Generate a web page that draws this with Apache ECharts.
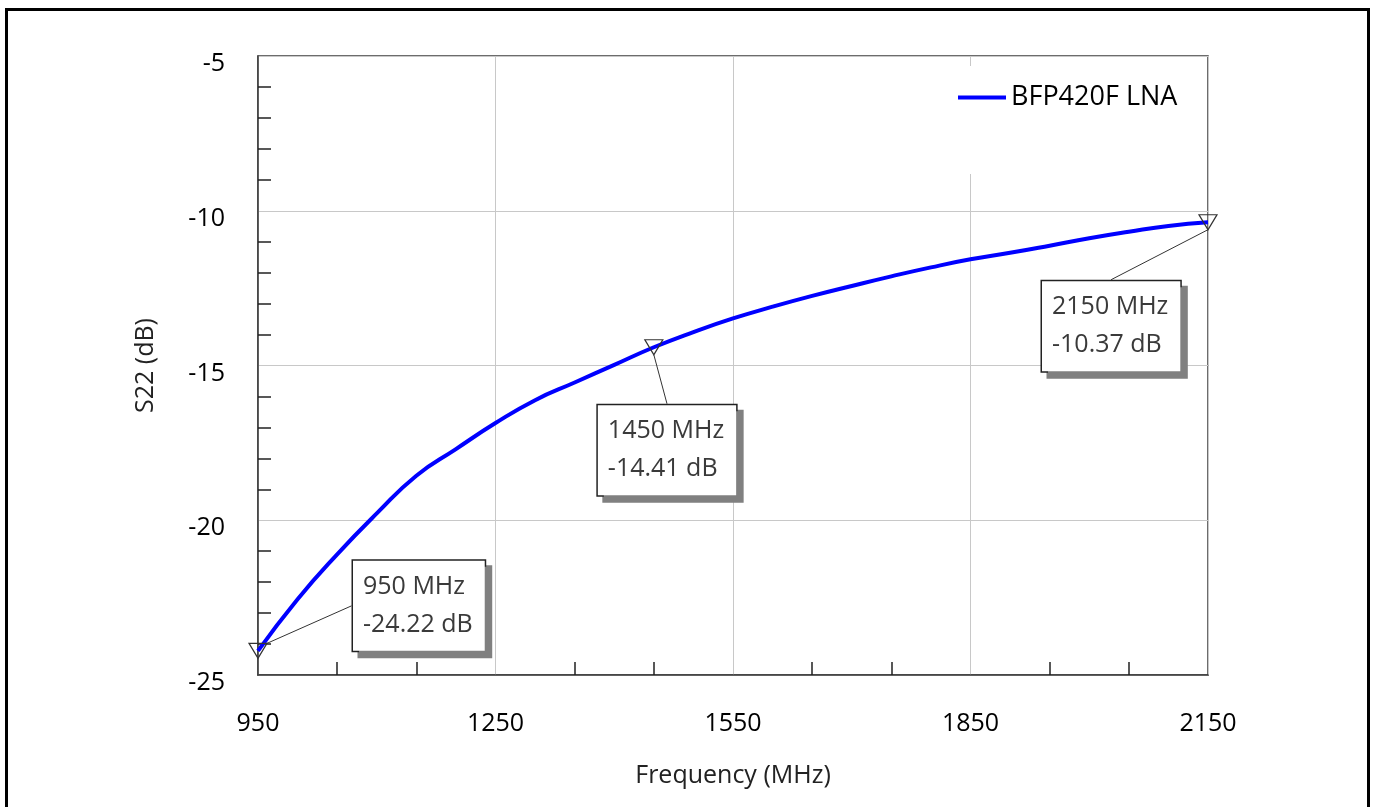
<!DOCTYPE html>
<html>
<head>
<meta charset="utf-8">
<title>S22</title>
<script src="https://cdn.jsdelivr.net/npm/echarts@6/dist/echarts.min.js"></script>
<style>
  html, body { margin: 0; padding: 0; background: #fff; }
  #chart { width: 1375px; height: 807px; }
  .frame {
    position: absolute; left: 5px; top: 8px; width: 1359px; height: 820px;
    border: 3px solid #000; pointer-events: none;
  }
</style>
</head>
<body>
<div id="chart"></div>
<div class="frame"></div>
<script>
// S22 of the LNA, every 50 MHz
const freqMHz = [950, 1000, 1050, 1100, 1150, 1200, 1250, 1300, 1350, 1400, 1450, 1500, 1550,
                 1600, 1650, 1700, 1750, 1800, 1850, 1900, 1950, 2000, 2050, 2100, 2150];
const s22dB = [-24.22, -22.55, -21.10, -19.78, -18.56, -17.70, -16.86, -16.12, -15.55, -14.98, -14.41, -13.92, -13.48,
               -13.10, -12.75, -12.43, -12.12, -11.83, -11.57, -11.36, -11.13, -10.89, -10.68, -10.49, -10.37];

// markers
const markerFreq = [950, 1450, 2150];
const markerDB = [-24.22, -14.41, -10.37];

const seriesName = 'BFP420F LNA';
const FONT = '"Open Sans", "Noto Sans", sans-serif';

const chart = echarts.init(document.getElementById('chart'));

// where each marker box sits (left edge, vertical middle), relative to its point
const boxOffsets = [[95, -45], [-56, 103], [-166, 104]];

const option = {
    animation: false,
    grid: {
        left: 258, right: 167, top: 56, bottom: 132,
        show: true, borderColor: '#3c3c3c', borderWidth: 1.5
    },
    legend: {
        data: [{ name: seriesName, icon: 'rect' }],
        left: 940, top: 66,
        padding: [18, 16, 63, 18],
        backgroundColor: '#fff',
        itemWidth: 48, itemHeight: 4,
        itemGap: 8,
        itemStyle: { color: '#0000ff' },
        textStyle: { fontFamily: FONT, fontSize: 27, color: '#000' }
    },
    xAxis: {
        type: 'value',
        min: 950, max: 2150, interval: 300,
        name: 'Frequency (MHz)',
        nameLocation: 'middle',
        nameGap: 88,
        nameTextStyle: { fontFamily: FONT, fontSize: 25, color: '#222' },
        axisLine: { lineStyle: { color: '#3c3c3c', width: 1.5 } },
        axisTick: { show: false },
        minorTick: { show: true, splitNumber: 3, length: -13, lineStyle: { color: '#222', width: 1.5 } },
        axisLabel: {
            margin: 36, fontFamily: FONT, fontSize: 25, color: '#000',
            formatter: v => String(v)
        },
        splitLine: { lineStyle: { color: '#c8c8c8', width: 1 } }
    },
    yAxis: {
        type: 'value',
        min: -25, max: -5, interval: 5,
        name: 'S22 (dB)',
        nameLocation: 'middle',
        nameGap: 100,
        nameRotate: 90,
        nameTextStyle: { fontFamily: FONT, fontSize: 25, color: '#222' },
        axisLine: { lineStyle: { color: '#3c3c3c', width: 1.5 } },
        axisTick: { show: false },
        minorTick: { show: true, splitNumber: 5, length: -13, lineStyle: { color: '#222', width: 1.5 } },
        axisLabel: {
            margin: 33, color: '#000',
            formatter: v => '{t|' + v + '}',
            rich: { t: { fontFamily: FONT, fontSize: 25, color: '#000', padding: [16, 0, 0, 0] } }
        },
        splitLine: { lineStyle: { color: '#c8c8c8', width: 1 } }
    },
    series: [
        {
            name: seriesName,
            type: 'line',
            data: freqMHz.map((f, i) => [f, s22dB[i]]),
            symbol: 'none',
            smooth: 0.5,
            lineStyle: { color: '#0000ff', width: 4 },
            itemStyle: { color: '#0000ff' },
            z: 3
        },
        {
            name: 'markers',
            type: 'scatter',
            data: markerFreq.map((f, i) => [f, markerDB[i]]),
            symbol: 'triangle',
            symbolRotate: 180,
            symbolSize: [18, 15],
            itemStyle: { color: 'rgba(0,0,0,0)', borderColor: '#333', borderWidth: 1.2, opacity: 1 },
            clip: false,
            z: 5,
            label: {
                show: true,
                position: 'inside',
                formatter: p => p.value[0] + ' MHz\n' + p.value[1].toFixed(2) + ' dB',
                align: 'left',
                verticalAlign: 'middle',
                opacity: 1,
                fontFamily: FONT,
                fontSize: 25,
                lineHeight: 38,
                color: '#3a3a3a',
                backgroundColor: '#fff',
                borderColor: '#222',
                borderWidth: 1.5,
                padding: [7, 12, 7, 10],
                shadowColor: '#808080',
                shadowOffsetX: 6,
                shadowOffsetY: 6,
                shadowBlur: 0
            },
            labelLayout: p => ({
                dx: boxOffsets[p.dataIndex][0],
                dy: boxOffsets[p.dataIndex][1]
            }),
            labelLine: {
                show: true,
                length2: 0,
                minTurnAngle: 0,
                lineStyle: { color: '#333', width: 1, opacity: 1 }
            }
        }
    ]
};

chart.setOption(option);
</script>
</body>
</html>
